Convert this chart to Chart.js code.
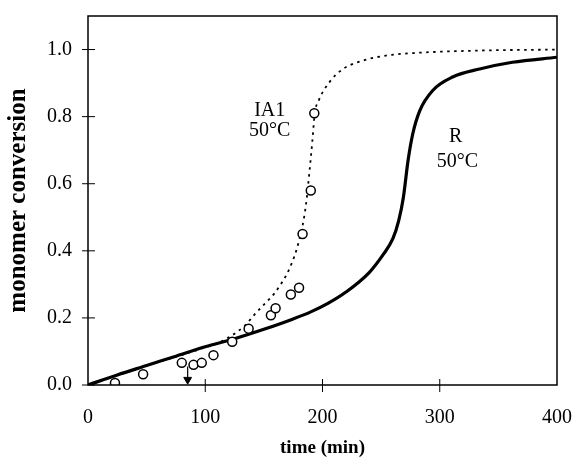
<!DOCTYPE html>
<html>
<head>
<meta charset="utf-8">
<script src="https://cdn.jsdelivr.net/npm/chart.js@4/dist/chart.umd.min.js"></script>
<style>
  html, body { margin: 0; padding: 0; background: #fff; }
  #wrap { width: 575px; height: 469px; }
</style>
</head>
<body>
<div id="wrap"><canvas id="chart"></canvas></div>
<script>
// measured conversion, IA1 at 50°C
const measTime = [23, 47, 80, 90, 97, 107, 123, 137, 156, 160, 173, 180, 183, 190, 193];
const measConv = [0.006, 0.032, 0.066, 0.06, 0.066, 0.089, 0.129, 0.168, 0.208, 0.229, 0.27, 0.29, 0.45, 0.58, 0.81];

// model curve IA1 (dotted)
const ia1Time = [0, 50, 100, 111, 120, 127, 134, 142, 151, 159, 164, 169, 174, 178, 183, 186, 189, 191.4, 193.4, 197, 206, 217.5, 234.5, 254, 280, 334, 400];
const ia1Conv = [0, 0.057, 0.112, 0.125, 0.142, 0.158, 0.178, 0.21, 0.243, 0.273, 0.298, 0.327, 0.365, 0.405, 0.475, 0.54, 0.64, 0.729, 0.809, 0.85, 0.903, 0.942, 0.967, 0.982, 0.99, 0.997, 1.0];

// model curve R (solid)
const rTime = [0, 25, 50, 75, 100, 125, 150, 175, 190, 205, 220, 240, 252, 260, 265, 269, 273, 277, 283, 294, 311, 334, 362, 400];
const rConv = [0, 0.03, 0.058, 0.086, 0.114, 0.138, 0.166, 0.197, 0.218, 0.244, 0.277, 0.336, 0.39, 0.436, 0.49, 0.56, 0.67, 0.749, 0.818, 0.878, 0.918, 0.942, 0.962, 0.977];

// arrow marker
const arrowTime = [85, 85];
const arrowConv = [0.055, 0.016];

const xTicks = [0, 100, 200, 300, 400];
const yTicks = [0, 0.2, 0.4, 0.6, 0.8, 1.0];

const serif = '"Liberation Serif", "DejaVu Serif", serif';
const toPoints = (xs, ys) => xs.map((x, i) => ({ x, y: ys[i] }));

const frame = {
    id: 'frame',
    afterDraw(c) {
        const { ctx, chartArea: a, scales: { x, y } } = c;
        ctx.save();
        ctx.strokeStyle = '#000';
        ctx.lineWidth = 1.5;
        ctx.strokeRect(a.left, a.top, a.right - a.left, a.bottom - a.top);
        ctx.lineWidth = 1;
        ctx.beginPath();
        yTicks.forEach(v => {
            const py = y.getPixelForValue(v);
            ctx.moveTo(a.left - 6, py);
            ctx.lineTo(a.left + 7, py);
        });
        xTicks.slice(1, -1).forEach(v => {
            const px = x.getPixelForValue(v);
            ctx.moveTo(px, a.bottom - 6);
            ctx.lineTo(px, a.bottom + 7);
        });
        ctx.stroke();

        ctx.fillStyle = '#000';
        ctx.font = '20px ' + serif;
        ctx.textAlign = 'center';
        ctx.textBaseline = 'middle';
        const label = (t, vx, vy) => ctx.fillText(t, x.getPixelForValue(vx), y.getPixelForValue(vy));
        label('IA1', 155, 0.818);
        label('50°C', 155, 0.757);
        label('R', 313.5, 0.741);
        label('50°C', 315, 0.667);
        ctx.restore();
    }
};

new Chart(document.getElementById('chart'), {
    type: 'scatter',
    data: {
        datasets: [
            {
                data: toPoints(measTime, measConv),
                pointRadius: 4.5,
                pointBorderWidth: 1.5,
                pointBorderColor: '#000',
                pointBackgroundColor: '#fff'
            },
            {
                data: toPoints(arrowTime, arrowConv),
                showLine: true,
                borderColor: '#000',
                borderWidth: 1.2,
                pointRadius: [0, 4.5],
                pointStyle: 'triangle',
                rotation: 180,
                pointBackgroundColor: '#000',
                pointBorderColor: '#000',
                pointBorderWidth: 1
            },
            {
                data: toPoints(ia1Time, ia1Conv),
                showLine: true,
                borderColor: '#000',
                borderWidth: 1.8,
                borderDash: [2.5, 4.5],
                cubicInterpolationMode: 'monotone',
                pointRadius: 0
            },
            {
                data: toPoints(rTime, rConv),
                showLine: true,
                borderColor: '#000',
                borderWidth: 3.2,
                cubicInterpolationMode: 'monotone',
                pointRadius: 0
            }
        ]
    },
    options: {
        responsive: true,
        maintainAspectRatio: false,
        animation: false,
        layout: {
            padding: { top: 16, right: 18, left: 0, bottom: 0 }
        },
        plugins: {
            legend: { display: false },
            tooltip: { enabled: false }
        },
        scales: {
            x: {
                type: 'linear',
                min: 0,
                max: 400,
                afterFit: s => {
                    s.height = 84;
                    s.paddingLeft = 0;
                    s.paddingRight = 0;
                },
                afterBuildTicks: s => { s.ticks = xTicks.map(value => ({ value })); },
                grid: { display: false, drawTicks: false },
                border: { display: false },
                ticks: {
                    padding: 21,
                    color: '#000',
                    font: { family: serif, size: 20 }
                },
                title: {
                    display: true,
                    text: 'time (min)',
                    color: '#000',
                    font: { family: serif, size: 19, weight: 'bold' },
                    padding: { top: 0, bottom: 10 }
                }
            },
            y: {
                min: 0,
                max: 1.1,
                afterFit: s => {
                    s.width = 88;
                    s.paddingTop = 0;
                    s.paddingBottom = 0;
                },
                afterBuildTicks: s => { s.ticks = yTicks.map(value => ({ value })); },
                grid: { display: false, drawTicks: false },
                border: { display: false },
                ticks: {
                    padding: 16,
                    color: '#000',
                    font: { family: serif, size: 20 },
                    callback: v => v.toFixed(1)
                },
                title: {
                    display: true,
                    text: 'monomer conversion',
                    color: '#000',
                    font: { family: serif, size: 25, weight: 'bold' },
                    padding: { top: 4, bottom: 0 }
                }
            }
        }
    },
    plugins: [frame]
});
</script>
</body>
</html>
